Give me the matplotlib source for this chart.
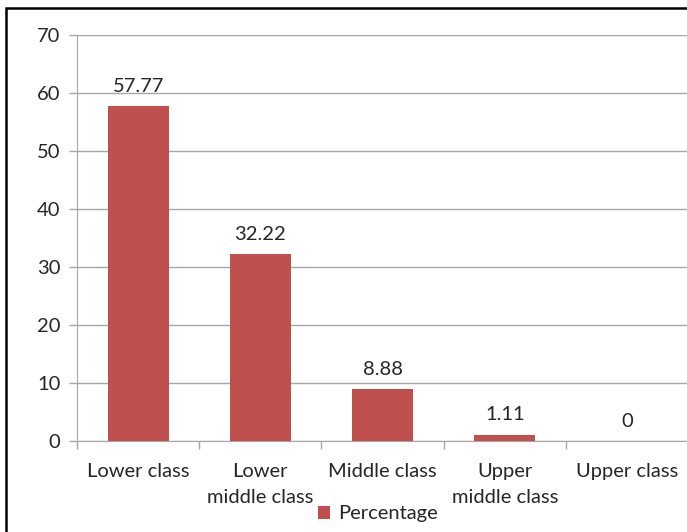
import matplotlib
matplotlib.use("Agg")
import matplotlib.pyplot as plt
from matplotlib.patches import Rectangle, Patch
import numpy as np

categories = ["Lower class", "Lower\nmiddle class", "Middle class", "Upper\nmiddle class", "Upper class"]
values = [57.77, 32.22, 8.88, 1.11, 0]
value_labels = ["57.77", "32.22", "8.88", "1.11", "0"]
series_name = "Percentage"

bar_color = "#C0504D"
grid_color = "#A6A6A6"
text_color = "#262626"

plt.rcParams['font.family'] = ['Lato', 'DejaVu Sans']
FS = 14.5

fig = plt.figure(figsize=(6.87, 5.32), dpi=100)
ax = fig.add_axes([77/687, 1 - 441/532, 611/687, (441 - 35)/532])

x = np.arange(len(categories))
ax.bar(x, values, width=0.5, color=bar_color, zorder=3)

for xi, v, lab in zip(x, values, value_labels):
    ax.annotate(lab, (xi, v), xytext=(0, 8), textcoords="offset points",
                ha="center", va="bottom", fontsize=FS, color=text_color)

ax.set_xlim(-0.5, len(categories) - 0.5)
ax.set_ylim(0, 70)
ax.set_yticks(np.arange(0, 71, 10))
ax.yaxis.grid(True, color=grid_color, linewidth=1, zorder=0)
ax.set_axisbelow(True)

ax.set_xticks(x)
ax.set_xticklabels(categories, fontsize=FS, color=text_color, linespacing=1.65)
ax.tick_params(axis="x", length=0, pad=16)
ax.set_xticks(np.arange(-0.5, len(categories), 1), minor=True)
ax.tick_params(axis="x", which="minor", length=6, color=grid_color, width=1)
ax.tick_params(axis="y", length=6, color=grid_color, width=1, labelsize=FS, labelcolor=text_color, pad=6)

for s in ["top", "right"]:
    ax.spines[s].set_visible(False)
ax.spines["left"].set_color(grid_color)
ax.spines["bottom"].set_color(grid_color)

handle = Patch(facecolor=bar_color, label=series_name)
fig.legend(handles=[handle], loc="center", bbox_to_anchor=(378/687, 1 - 514/532),
           frameon=False, fontsize=FS, handlelength=0.6, handleheight=0.6,
           handletextpad=0.4, labelcolor=text_color)

fig.patches.append(Rectangle((6/687, -0.1), 1.2, 1 - 8/532 + 0.1, transform=fig.transFigure,
                             fill=False, edgecolor="black", linewidth=1.8))

fig.savefig("out.png", dpi=100)
